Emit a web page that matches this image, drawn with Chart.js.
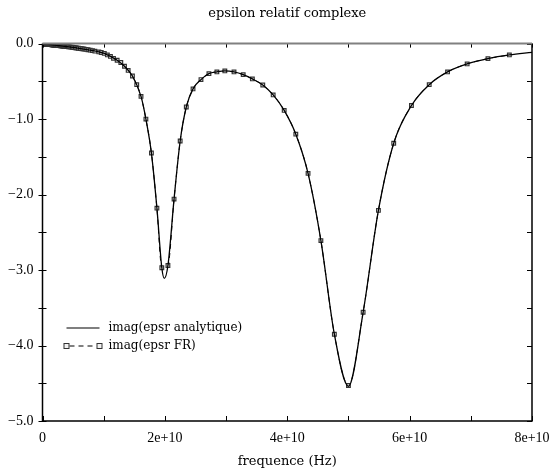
<!DOCTYPE html>
<html>
<head>
<meta charset="utf-8">
<script src="https://cdn.jsdelivr.net/npm/chart.js@4.4.1/dist/chart.umd.min.js"></script>
<style>
    body { margin: 0; background: #fff; }
    #wrap { width: 551px; height: 470px; }
</style>
</head>
<body>
<div id="wrap"><canvas id="epsChart" width="551" height="470"></canvas></div>
<script>
// frequencies in units of 1e10 Hz
const lineFreq = [0, 0.2, 0.4, 0.6, 0.8, 0.92, 1.01, 1.11, 1.22, 1.34, 1.47, 1.61, 1.69, 1.78, 1.87, 1.95, 1.99, 2.05,
    2.15, 2.25, 2.35, 2.46, 2.59, 2.72, 2.85, 2.98, 3.13, 3.28, 3.43, 3.60, 3.77, 3.95, 4.14, 4.34, 4.55, 4.77,
    5.00, 5.24, 5.49, 5.74, 6.03, 6.32, 6.62, 6.94, 7.28, 7.63, 8.0];
const lineVal = [0, -0.02, -0.04, -0.062, -0.09, -0.11, -0.13, -0.17, -0.22, -0.30, -0.43, -0.70, -1.0, -1.45, -2.18, -2.97, -3.11, -2.94,
    -2.06, -1.29, -0.84, -0.60, -0.477, -0.398, -0.375, -0.362, -0.375, -0.411, -0.468, -0.548, -0.68, -0.885, -1.20, -1.72, -2.61, -3.85,
    -4.54, -3.56, -2.21, -1.32, -0.82, -0.544, -0.375, -0.269, -0.199, -0.15, -0.115];

const frFreq = [0.051, 0.054, 0.056, 0.059, 0.062, 0.065, 0.068, 0.071, 0.075, 0.078, 0.082, 0.086, 0.090, 0.095, 0.099,
    0.104, 0.109, 0.114, 0.119, 0.125, 0.131, 0.137, 0.144, 0.151, 0.158, 0.166, 0.173, 0.182, 0.190, 0.200,
    0.210, 0.220, 0.230, 0.241, 0.253, 0.265, 0.278, 0.291, 0.305, 0.320, 0.335, 0.351, 0.368, 0.386, 0.404,
    0.424, 0.444, 0.465, 0.488, 0.511, 0.536, 0.561, 0.588, 0.617, 0.646, 0.677, 0.710, 0.744, 0.780, 0.817, 0.856,
    0.92, 0.96, 1.01, 1.06, 1.11, 1.16, 1.22, 1.28, 1.34, 1.40, 1.47, 1.54, 1.61, 1.69, 1.78, 1.87, 1.95, 2.05,
    2.15, 2.25, 2.35, 2.46, 2.59, 2.72, 2.85, 2.98, 3.13, 3.28, 3.43, 3.60, 3.77, 3.95, 4.14, 4.34, 4.55, 4.77,
    5.00, 5.24, 5.49, 5.74, 6.03, 6.32, 6.62, 6.94, 7.28, 7.63];
const frVal = [-0.005, -0.005, -0.006, -0.006, -0.006, -0.006, -0.007, -0.007, -0.007, -0.008, -0.008, -0.008, -0.009, -0.009, -0.010,
    -0.010, -0.011, -0.011, -0.012, -0.012, -0.013, -0.014, -0.014, -0.015, -0.016, -0.016, -0.017, -0.018, -0.019, -0.020,
    -0.021, -0.022, -0.023, -0.024, -0.025, -0.026, -0.027, -0.029, -0.030, -0.032, -0.033, -0.035, -0.036, -0.038, -0.040,
    -0.042, -0.044, -0.047, -0.049, -0.052, -0.055, -0.058, -0.061, -0.065, -0.068, -0.072, -0.077, -0.082, -0.087, -0.093, -0.100,
    -0.11, -0.118, -0.13, -0.15, -0.17, -0.195, -0.22, -0.25, -0.30, -0.355, -0.43, -0.544, -0.70, -1.0, -1.45, -2.18, -2.97, -2.94,
    -2.06, -1.29, -0.84, -0.60, -0.477, -0.398, -0.375, -0.362, -0.375, -0.411, -0.468, -0.548, -0.68, -0.885, -1.20, -1.72, -2.61, -3.85,
    -4.53, -3.56, -2.21, -1.32, -0.82, -0.544, -0.375, -0.269, -0.199, -0.15];

const xTickLabels = ["0", "2e+10", "4e+10", "6e+10", "8e+10"];
const yTickLabels = ["\u22125.0", "\u22124.0", "\u22123.0", "\u22122.0", "\u22121.0", "0.0"];
const seriesNames = ["imag(epsr analytique)", "imag(epsr FR)"];

const TICK_FONT = "'Liberation Serif', serif";
const TEXT_FONT = "'DejaVu Serif', serif";
const MARKER_EDGE = "#333";
const MARKER_FILL = "rgba(235,235,235,0.7)";

function toPoints(xs, ys) {
    return xs.map((x, i) => ({ x: x, y: ys[i] }));
}

function drawMarker(ctx, x, y) {
    ctx.fillStyle = MARKER_FILL;
    ctx.fillRect(x - 2.5, y - 2.5, 5, 5);
    ctx.strokeRect(x - 2.5, y - 2.5, 5, 5);
}

// box with inward ticks + legend inside the plot
const frameAndLegend = {
    id: "frameAndLegend",
    afterDraw(chart) {
        const ctx = chart.ctx;
        const a = chart.chartArea;
        const xs = chart.scales.x;
        const ys = chart.scales.y;
        ctx.save();
        ctx.strokeStyle = "#000";
        ctx.lineWidth = 1;
        ctx.beginPath();
        for (let v = 0; v <= 8; v += 1) {
            const px = Math.round(xs.getPixelForValue(v)) + 0.5;
            ctx.moveTo(px, a.bottom);
            ctx.lineTo(px, a.bottom - 5);
            ctx.moveTo(px, a.top);
            ctx.lineTo(px, a.top + 4);
        }
        for (let v = -5; v <= 0; v += 0.5) {
            const py = Math.round(ys.getPixelForValue(v)) + 0.5;
            ctx.moveTo(a.left - 4, py);
            ctx.lineTo(a.left + 4, py);
            ctx.moveTo(a.right, py);
            ctx.lineTo(a.right - 5, py);
        }
        ctx.stroke();

        ctx.lineWidth = 1.5;
        ctx.beginPath();
        ctx.moveTo(a.left, a.top);
        ctx.lineTo(a.left, a.bottom);
        ctx.lineTo(a.right, a.bottom);
        ctx.lineTo(a.right, a.top);
        ctx.stroke();
        ctx.strokeStyle = "#808080";
        ctx.lineWidth = 2;
        ctx.beginPath();
        ctx.moveTo(a.left, a.top);
        ctx.lineTo(a.right, a.top);
        ctx.stroke();

        // legend
        const lx = a.left + 24;
        const row1 = 328;
        const row2 = 346;
        ctx.strokeStyle = "#000";
        ctx.lineWidth = 1.2;
        ctx.beginPath();
        ctx.moveTo(lx, row1);
        ctx.lineTo(lx + 33, row1);
        ctx.stroke();
        ctx.lineWidth = 1;
        ctx.setLineDash([5, 4]);
        ctx.beginPath();
        ctx.moveTo(lx + 3, row2);
        ctx.lineTo(lx + 30, row2);
        ctx.stroke();
        ctx.setLineDash([]);
        ctx.strokeStyle = MARKER_EDGE;
        drawMarker(ctx, lx, row2);
        drawMarker(ctx, lx + 33, row2);

        ctx.fillStyle = "#000";
        ctx.font = "12px " + TEXT_FONT;
        ctx.textBaseline = "middle";
        ctx.textAlign = "left";
        ctx.fillText(seriesNames[0], lx + 42, row1);
        ctx.fillText(seriesNames[1], lx + 42, row2);
        ctx.restore();
    },
};

const ctx = document.getElementById("epsChart").getContext("2d");
new Chart(ctx, {
    type: "line",
    data: {
        datasets: [
            {
                label: seriesNames[0],
                data: toPoints(lineFreq, lineVal),
                borderColor: "#000",
                borderWidth: 1.3,
                pointRadius: 0,
                cubicInterpolationMode: "monotone",
                fill: false,
            },
            {
                label: seriesNames[1],
                data: toPoints(frFreq, frVal),
                borderColor: "#000",
                borderWidth: 1,
                borderDash: [5, 4],
                pointStyle: "rect",
                pointRadius: 2.6,
                pointBorderWidth: 1.2,
                pointBorderColor: MARKER_EDGE,
                pointBackgroundColor: MARKER_FILL,
                cubicInterpolationMode: "monotone",
                fill: false,
            },
        ],
    },
    options: {
        responsive: false,
        animation: false,
        layout: { padding: { left: 0, right: 19, top: 0, bottom: 0 } },
        plugins: {
            legend: { display: false },
            tooltip: { enabled: false },
            title: {
                display: true,
                fullSize: false,
                text: "epsilon relatif complexe",
                color: "#000",
                font: { family: TEXT_FONT, size: 13, weight: "normal" },
                padding: { top: 6, bottom: 22 },
            },
        },
        scales: {
            x: {
                type: "linear",
                min: 0,
                max: 8,
                grid: { display: false, drawTicks: false },
                border: { display: false },
                ticks: {
                    stepSize: 2,
                    autoSkip: false,
                    maxRotation: 0,
                    padding: 9,
                    color: "#000",
                    font: { family: TICK_FONT, size: 14 },
                    callback: (v, i) => xTickLabels[i],
                },
                title: {
                    display: true,
                    text: "frequence (Hz)",
                    color: "#000",
                    font: { family: TEXT_FONT, size: 13 },
                    padding: { top: 0, bottom: 1 },
                },
                afterFit(scale) {
                    scale.height = 49;
                    scale.paddingLeft = 0;
                    scale.paddingRight = 0;
                },
            },
            y: {
                min: -5,
                max: 0,
                grid: { display: false, drawTicks: false },
                border: { display: false },
                ticks: {
                    stepSize: 1,
                    padding: 9,
                    color: "#000",
                    font: { family: TICK_FONT, size: 14 },
                    callback: (v, i) => yTickLabels[i],
                },
                afterFit(scale) {
                    scale.width = 42.5;
                },
            },
        },
    },
    plugins: [frameAndLegend],
});
</script>
</body>
</html>
